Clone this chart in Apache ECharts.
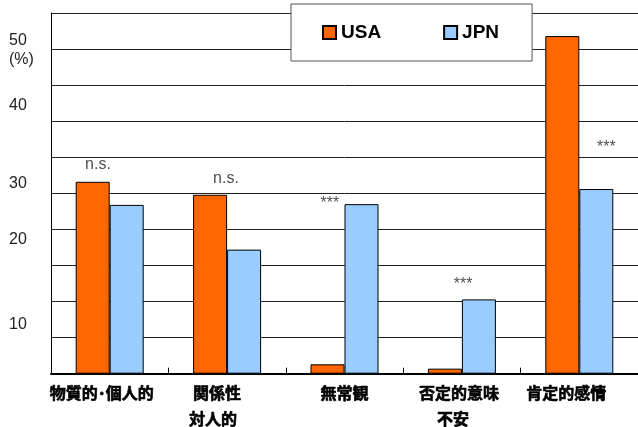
<!DOCTYPE html>
<html><head><meta charset="utf-8">
<script src="https://cdn.jsdelivr.net/npm/echarts@6/dist/echarts.min.js"></script>
<style>html,body{margin:0;padding:0;background:#fff}#c{width:638px;height:427px}</style>
</head><body><div id="c"></div>
<script>
const categories = ['物質的･個人的', '関係性\n対人的', '無常観', '否定的意味\n不安', '肯定的感情'];
const seriesNames = ['USA', 'JPN'];
const usaValues = [26.6, 24.8, 1.3, 0.7, 46.8];
const jpnValues = [23.4, 17.2, 23.5, 10.3, 25.6];
const yTickLabels = ['10', '20', '30', '40', '50\n(%)'];
const yTickLabelValues = [6.85, 18.6, 26.4, 37.1, 44.9];
const sigLabels = ['n.s.', 'n.s.', '***', '***', '***'];
const sigX = [0.40, 1.49, 2.375, 3.51, 4.73];
const sigY = [29.0, 27.0, 23.6, 12.3, 31.4];

const labelShifts = [[8], [10, 14], [0], [3, 9], [13]];
const rich = {};
labelShifts.flat().forEach(s => {
  rich['s' + s] = {fontSize: 16, fontWeight: 'bold', fontFamily: 'Noto Sans CJK JP', color: '#000',
    textBorderColor: '#000', textBorderWidth: 0.6,
    lineHeight: 26, align: 'center', padding: [0, 2 * s, 0, 0]};
});

const chart = echarts.init(document.getElementById('c'), null, {renderer: 'canvas'});
chart.setOption({
  animation: false,
  backgroundColor: '#fff',
  grid: {left: 51, top: 13, width: 591, height: 365, containLabel: false},
  legend: {
    data: seriesNames, left: 291, top: 4, orient: 'horizontal',
    padding: [19, 33, 19, 31], itemGap: 62, itemWidth: 13, itemHeight: 13,
    backgroundColor: '#fff', borderColor: '#555', borderWidth: 1, icon: 'rect',
    textStyle: {fontSize: 19, fontWeight: 'bold', color: '#000', fontFamily: 'Liberation Sans'}
  },
  xAxis: [{
    type: 'category', data: categories,
    axisLine: {lineStyle: {color: '#000', width: 2}},
    axisTick: {show: true, inside: true, length: 6, lineStyle: {color: '#000'}},
    axisLabel: {
      interval: 0, margin: 6,
      formatter: (val, idx) => val.split('\n').map((line, j) => '{s' + labelShifts[idx][j] + '|' + line + '}').join('\n'),
      rich: rich
    },
    splitLine: {show: false}
  }, {
    type: 'value', min: 0, max: 5, show: false
  }],
  yAxis: {
    type: 'value', min: 0, max: 50, interval: 5,
    axisLine: {show: true, lineStyle: {color: '#000'}},
    axisTick: {show: false},
    splitLine: {show: true, lineStyle: {color: '#222', width: 1}},
    axisLabel: {
      customValues: yTickLabelValues,
      formatter: v => { const i = yTickLabelValues.indexOf(v); return i < 0 ? '' : yTickLabels[i]; },
      align: 'left', margin: 42, fontSize: 16, lineHeight: 19, color: '#222', fontFamily: 'Liberation Sans'
    }
  },
  series: [
    {name: 'USA', type: 'bar', data: usaValues, barWidth: 34, barGap: '0%',
      itemStyle: {color: '#FF6600', borderColor: '#000', borderWidth: 1}},
    {name: 'JPN', type: 'bar', data: jpnValues, barWidth: 34, barGap: '0%',
      itemStyle: {color: '#99CCFF', borderColor: '#000', borderWidth: 1}},
    {type: 'scatter', xAxisIndex: 1, yAxisIndex: 0, silent: true,
      data: sigX.map((x, i) => [x, sigY[i], sigLabels[i]]),
      symbolSize: 1, itemStyle: {color: 'rgba(0,0,0,0)'},
      label: {show: true, position: 'inside', formatter: p => p.data[2], fontSize: 16, color: '#222', fontFamily: 'Liberation Sans'}}
  ]
});
</script>
</body></html>
